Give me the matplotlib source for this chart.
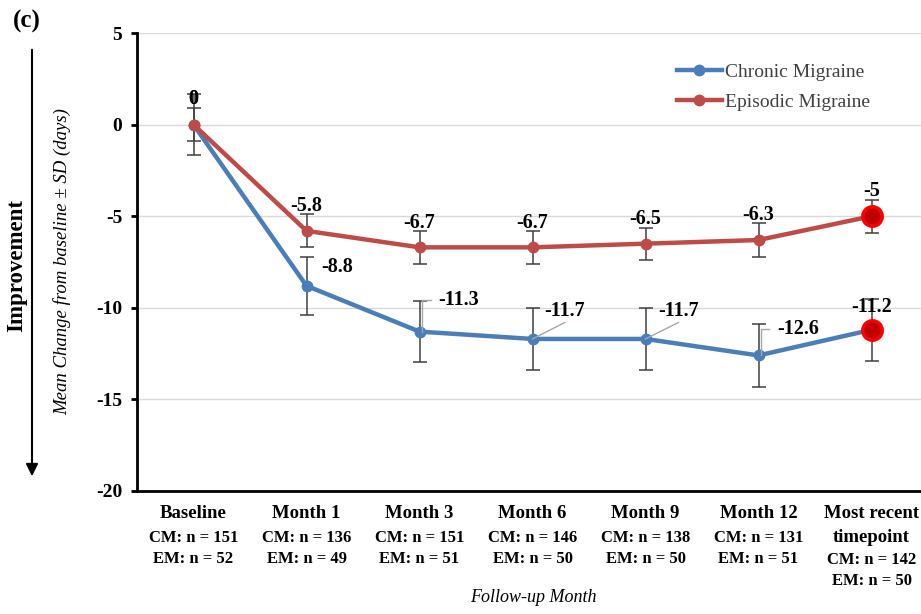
"""Mean change from baseline in monthly migraine days, CM vs EM."""

import matplotlib.pyplot as plt

plt.rcParams["axes.unicode_minus"] = False
plt.rcParams["font.family"] = ["Liberation Serif", "DejaVu Serif"]

# data
timepoints = ["Baseline", "Month 1", "Month 3", "Month 6", "Month 9", "Month 12", "Most recent\ntimepoint"]
cm_n = [151, 136, 151, 146, 138, 131, 142]
em_n = [52, 49, 51, 50, 50, 51, 50]
cm_mean = [0, -8.8, -11.3, -11.7, -11.7, -12.6, -11.2]
em_mean = [0, -5.8, -6.7, -6.7, -6.5, -6.3, -5.0]
cm_sd = [1.65, 1.6, 1.65, 1.7, 1.7, 1.7, 1.7]
em_sd = [0.9, 0.9, 0.9, 0.9, 0.88, 0.95, 0.9]

BLUE = "#4A7EBB"
RED = "#BE4B48"
BAR = "#404040"
LEADER = "#A6A6A6"

W, H = 921, 614
fig = plt.figure(figsize=(W / 100, H / 100), dpi=100)
ax = fig.add_axes([137 / W, 1 - 491 / H, 1 - 137 / W, (491 - 33) / H])
x = list(range(len(timepoints)))

# error bars under the lines
ax.errorbar(x, cm_mean, yerr=cm_sd, fmt="none", ecolor=BAR, elinewidth=1.1,
            capsize=5, capthick=1.1, zorder=2)
ax.errorbar(x, em_mean, yerr=em_sd, fmt="none", ecolor=BAR, elinewidth=1.1,
            capsize=5, capthick=1.1, zorder=2)

ax.plot(x, cm_mean, color=BLUE, lw=3.2, marker="o", ms=7.5, label="Chronic Migraine", zorder=3)
ax.plot(x, em_mean, color=RED, lw=3.2, marker="o", ms=7.5, label="Episodic Migraine", zorder=3)

# highlight the most recent timepoint
for series in (cm_mean, em_mean):
    ax.plot(x[-1:], series[-1:], ls="none", marker="o", ms=14, mfc="#C00000",
            mec="#FF0000", mew=2.5, zorder=4)

lab = dict(fontsize=14.5, fontweight="bold", zorder=6)

# EM labels centred above the points
for i, v in enumerate(em_mean):
    ax.text(x[i], v + (1.42 if i == 0 else 1.35), f"{v:g}", ha="center", va="center", **lab)
ax.text(x[0], cm_mean[0] + 1.42, f"{cm_mean[0]:g}", ha="center", va="center", **lab)

# CM labels to the right of the points (dx in categories, dy in days)
cm_offsets = [None, (0.13, 1.0), (0.17, 1.7), (0.106, 1.55), (0.112, 1.55), (0.165, 1.45), (0.0, 1.23)]
for i, off in enumerate(cm_offsets):
    if off is None:
        continue
    dx, dy = off
    ax.text(x[i] + dx, cm_mean[i] + dy, f"{cm_mean[i]:g}",
            ha="center" if dx == 0 else "left", va="center", **lab)

# leader lines for the CM labels
for i in (2, 5):
    dx, dy = cm_offsets[i]
    ax.plot([x[i] + 0.02, x[i] + 0.02, x[i] + dx - 0.07],
            [cm_mean[i], cm_mean[i] + dy, cm_mean[i] + dy],
            color=LEADER, lw=1, zorder=5)
for i in (3, 4):
    dx, dy = cm_offsets[i]
    ax.plot([x[i], x[i] + dx + 0.18], [cm_mean[i], cm_mean[i] + dy - 0.65],
            color=LEADER, lw=1, zorder=5)

ax.set_xlim(-0.5, -0.5 + (W - 137) / 113)
ax.set_ylim(-20, 5)
ax.set_yticks(range(-20, 6, 5))
ax.set_xticks([])
for t in ax.get_yticklabels():
    t.set_fontsize(14)
    t.set_fontweight("bold")
ax.tick_params(axis="y", length=4, width=2, pad=6.5)
ax.yaxis.grid(True, color="#D9D9D9", lw=1)
ax.set_axisbelow(True)
for side in ("top", "right"):
    ax.spines[side].set_visible(False)
ax.spines["left"].set_linewidth(2)
ax.spines["bottom"].set_linewidth(2)

# category labels with group sizes
xt = ax.get_xaxis_transform()
ah = 491 - 33
for i, name in enumerate(timepoints):
    lines = name.split("\n")
    y0 = 513
    for ln in lines:
        ax.text(x[i], -(y0 - 491) / ah, ln, transform=xt, ha="center", va="center",
                fontsize=13.5, fontweight="bold", clip_on=False)
        y0 += 24
    y1 = y0 - 1 if len(lines) > 1 else 538
    ax.text(x[i], -(y1 - 491) / ah, f"CM: n = {cm_n[i]}", transform=xt, ha="center",
            va="center", fontsize=12, fontweight="bold", clip_on=False)
    ax.text(x[i], -(y1 + 21 - 491) / ah, f"EM: n = {em_n[i]}", transform=xt, ha="center",
            va="center", fontsize=12, fontweight="bold", clip_on=False)

leg = ax.legend(loc="center left", bbox_to_anchor=(677 / W, 1 - 87 / H),
                bbox_transform=fig.transFigure, frameon=False, fontsize=14,
                handlelength=2.3, handletextpad=0.15, labelspacing=0.62,
                borderpad=0, borderaxespad=0)
for t in leg.get_texts():
    t.set_color("#404040")

fig.text(62 / W, 1 - 262 / H, "Mean Change from baseline \u00b1 SD (days)", rotation=90,
         ha="center", va="center", fontsize=13.5, style="italic")
fig.text(17 / W, 1 - 266 / H, "Improvement", rotation=90, ha="center", va="center",
         fontsize=16.5, fontweight="bold")
fig.text(533 / W, 1 - 598 / H, "Follow-up Month", ha="center", va="center",
         fontsize=13, style="italic")
fig.text(27 / W, 1 - 21 / H, "(c)", ha="center", va="center", fontsize=18, fontweight="bold")
ax.annotate("", xy=(32 / W, 1 - 479 / H), xytext=(32 / W, 1 - 47 / H),
            xycoords="figure fraction", textcoords="figure fraction",
            arrowprops=dict(arrowstyle="-|>", color="black", lw=1.5, mutation_scale=18))

fig.savefig("out.png", dpi=100)
